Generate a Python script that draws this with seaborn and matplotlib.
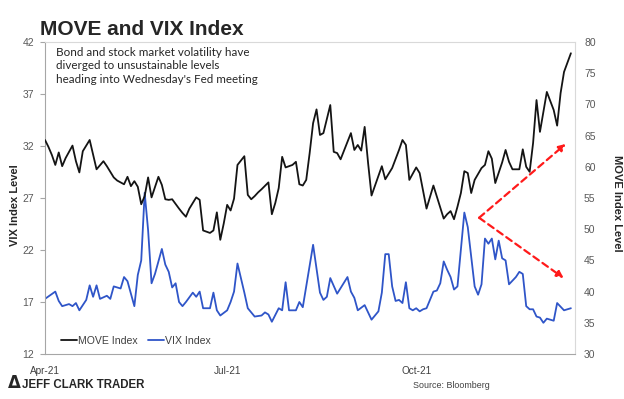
import seaborn as sns
import matplotlib.pyplot as plt

# weekday index counted from 1 Apr 2021, levels
move_day = [0, 1, 2, 3, 4, 5, 6, 8, 9, 10, 11, 13, 15, 17, 18, 20, 21, 23, 24, 25, 26, 27, 28, 29, 30,
            31, 33, 34, 35, 36, 37, 39, 40, 41, 42, 44, 45, 46, 48, 49, 50, 51, 52, 53, 54, 55, 56, 58,
            59, 60, 61, 62, 63, 65, 66, 67, 68, 69, 70, 72, 73, 74, 75, 76, 77, 78, 79, 80, 81, 83, 84,
            85, 86, 89, 90, 91, 92, 93, 94, 95, 98, 99, 101, 103, 104, 105, 106, 108, 109, 111, 113,
            116, 117, 118, 119, 120, 121, 122, 123, 124, 125, 127, 128, 129, 130, 131, 133, 134, 135,
            136, 138, 139, 140, 141, 142, 143, 144, 146, 148, 149, 150, 151, 153]
move_level = [64.3, 63.2, 61.9, 60.3, 62.3, 60.1, 61.4, 63.4, 60.9, 59.1, 62.5, 64.3, 59.6, 60.9, 60.1,
              58.3, 57.8, 57.2, 58.4, 56.9, 57.7, 56.8, 54.0, 55.3, 58.3, 55.1, 58.4, 57.1, 54.8, 54.7,
              54.8, 53.3, 52.6, 52.0, 53.3, 55.1, 54.7, 49.8, 49.4, 49.8, 52.7, 48.3, 50.9, 53.9, 53.0,
              54.9, 60.3, 61.7, 55.5, 54.8, 55.3, 55.9, 56.4, 57.5, 52.4, 54.2, 56.6, 61.6, 59.9, 60.3,
              60.8, 57.2, 57.0, 57.9, 62.2, 67.0, 69.2, 65.1, 65.4, 69.9, 62.4, 62.2, 61.2, 65.4, 62.7,
              63.5, 62.6, 66.4, 60.6, 55.4, 60.1, 58.0, 59.8, 62.7, 64.3, 63.5, 57.9, 59.9, 59.0, 53.3,
              57.0, 51.7, 52.4, 52.9, 51.6, 53.6, 55.8, 59.3, 59.0, 55.8, 57.9, 59.8, 60.3, 62.5, 61.3,
              57.4, 60.7, 62.7, 60.8, 59.6, 59.6, 62.8, 60.0, 59.2, 63.8, 70.7, 65.6, 72.0, 69.1, 66.6,
              71.8, 75.2, 78.2]

vix_day = [0, 3, 4, 5, 7, 8, 9, 10, 12, 13, 14, 15, 16, 18, 19, 20, 22, 23, 24, 26, 27, 28, 29, 30, 31,
           32, 34, 35, 36, 37, 38, 39, 40, 41, 43, 44, 45, 46, 48, 49, 50, 51, 53, 54, 55, 56, 58, 59,
           61, 63, 64, 65, 66, 68, 69, 70, 71, 73, 74, 75, 78, 80, 81, 82, 83, 85, 88, 89, 90, 91, 93,
           94, 95, 97, 98, 99, 100, 101, 102, 103, 104, 105, 106, 107, 108, 109, 110, 111, 113, 114,
           115, 116, 117, 118, 119, 120, 122, 123, 125, 126, 127, 128, 129, 130, 131, 132, 133, 134,
           135, 137, 138, 139, 140, 141, 142, 143, 144, 145, 146, 147, 148, 149, 151, 153]
vix_level = [17.3, 18.0, 17.1, 16.6, 16.8, 16.6, 16.9, 16.2, 17.2, 18.6, 17.5, 18.6, 17.3, 17.6, 17.3,
             18.5, 18.3, 19.4, 19.0, 16.6, 19.6, 21.0, 27.5, 23.9, 18.8, 19.7, 22.1, 20.6, 19.9, 18.4,
             18.8, 17.0, 16.6, 17.0, 17.9, 17.5, 18.0, 16.4, 16.4, 17.9, 16.2, 15.7, 16.2, 17.0, 18.0,
             20.7, 17.9, 16.4, 15.6, 15.7, 16.0, 15.8, 15.1, 16.4, 16.2, 18.9, 16.2, 16.2, 17.0, 16.5,
             22.5, 17.9, 17.2, 17.5, 19.3, 17.8, 19.4, 18.0, 17.4, 16.2, 16.7, 16.0, 15.3, 16.1, 17.9,
             21.6, 21.6, 18.5, 17.1, 17.2, 16.9, 18.9, 16.4, 16.2, 16.4, 16.1, 16.3, 16.4, 18.0, 18.1,
             18.8, 20.9, 20.1, 19.4, 18.2, 18.5, 25.6, 24.2, 18.5, 17.7, 18.7, 23.1, 22.6, 23.1, 21.1,
             22.9, 21.2, 21.0, 18.7, 19.4, 19.9, 19.7, 16.6, 16.3, 16.3, 15.6, 15.5, 15.0, 15.4, 15.3,
             15.2, 16.9, 16.2, 16.4]

tick_days = [0, 53, 108]
tick_labels = ['Apr-21', 'Jul-21', 'Oct-21']
vix_ticks = [12, 17, 22, 27, 32, 37, 42]
move_ticks = [30, 35, 40, 45, 50, 55, 60, 65, 70, 75, 80]

sns.set_style('white')
plt.rcParams['font.family'] = ['Liberation Sans Narrow', 'Liberation Sans', 'DejaVu Sans']

fig = plt.figure(figsize=(6.24, 3.99), dpi=100)
ax = fig.add_axes([0.0721, 0.1128, 0.8494, 0.7819])
ax2 = ax.twinx()

sns.lineplot(x=vix_day, y=vix_level, ax=ax, color='#2f55c8', linewidth=1.3, label='VIX Index')
sns.lineplot(x=move_day, y=move_level, ax=ax2, color='#141414', linewidth=1.3, label='MOVE Index')

ax.set_xlim(0, 154.2)
ax.set_ylim(12, 42)
ax2.set_ylim(30, 80)
ax.set_xticks(tick_days, tick_labels)
ax.set_yticks(vix_ticks)
ax2.set_yticks(move_ticks)
ax.set_xlabel('')
ax.set_ylabel('')
ax2.set_ylabel('')

ax.tick_params(axis='y', length=3.5, width=0.8, color='#a6a6a6', labelsize=7.5, labelcolor='#595959', pad=4.5)
ax.tick_params(axis='x', length=0, labelsize=7.2, labelcolor='#404040', pad=8.5)
ax2.tick_params(axis='y', length=0, labelsize=7.5, labelcolor='#595959', pad=6.5)

for side in ['left', 'bottom']:
    ax.spines[side].set_color('#a6a6a6')
for side in ['top', 'right']:
    ax.spines[side].set_color('#d9d9d9')
for sp in ax2.spines.values():
    sp.set_visible(False)

handles = [ax2.get_lines()[0], ax.get_lines()[0]]
ax2.get_legend().remove()
ax.legend(handles=handles, labels=['MOVE Index', 'VIX Index'], ncol=2, frameon=False,
          loc='center left', bbox_to_anchor=(0.03, 0.042), borderpad=0, borderaxespad=0,
          handlelength=1.5, handletextpad=0.1, columnspacing=1.0, fontsize=7.6, labelcolor='#404040')

ax.text(0.021, 0.985, "Bond and stock market volatility have\ndiverged to unsustainable levels\n"
        "heading into Wednesday's Fed meeting", transform=ax.transAxes, ha='left', va='top',
        family=['Lato', 'DejaVu Sans'], fontsize=8.4, color='#262626', linespacing=1.3)

arrow = dict(arrowstyle='-|>', color='#ff1a1a', lw=1.6, linestyle=(0, (3, 2)), mutation_scale=10,
             shrinkA=0, shrinkB=0)
ax.annotate('', xy=(151.5, 32.2), xytext=(126.3, 25.1), arrowprops=arrow)
ax.annotate('', xy=(150.9, 19.3), xytext=(126.3, 25.1), arrowprops=arrow)

fig.text(0.064, 0.912, 'MOVE and VIX Index', fontsize=15, fontweight='bold', va='baseline', ha='left')
fig.text(15 / 624, 1 - 205 / 399, 'VIX Index Level', rotation=90, ha='center', va='center',
         fontsize=8, fontweight='bold', family=['Liberation Sans', 'DejaVu Sans'])
fig.text(617 / 624, 1 - 203 / 399, 'MOVE Index Level', rotation=270, ha='center', va='center',
         fontsize=8, fontweight='bold', family=['Liberation Sans', 'DejaVu Sans'])

fig.text(8 / 624, 1 - 388 / 399, 'Δ', fontsize=12, fontweight='bold', va='baseline', ha='left',
         family=['DejaVu Sans'])
fig.text(22 / 624, 1 - 388 / 399, 'JEFF CLARK TRADER', fontsize=8.3, fontweight='bold',
         va='baseline', ha='left')
fig.text(413 / 624, 1 - 388 / 399, 'Source: Bloomberg', fontsize=6.4, color='#404040',
         va='baseline', ha='left')

fig.savefig('out.png', dpi=100)
